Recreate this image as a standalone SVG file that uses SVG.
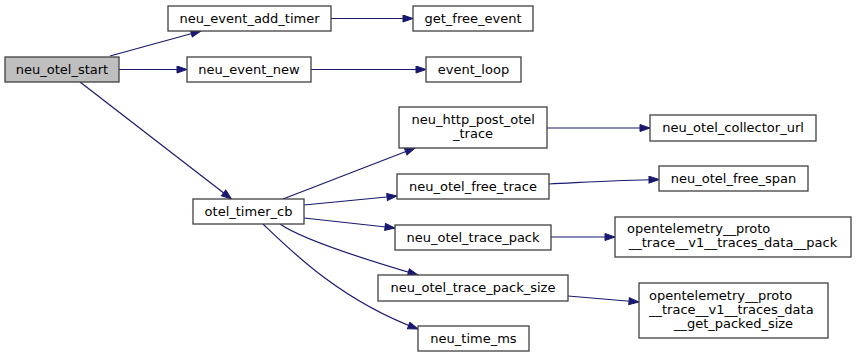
<svg xmlns="http://www.w3.org/2000/svg" width="856" height="357" viewBox="0 0 856 357">
  <style>
    .box { fill: #ffffff; stroke: #404040; stroke-width: 1.3; }
    .root { fill: #bfbfbf; }
    .lbl { font-family: "DejaVu Sans", sans-serif; font-size: 13px; fill: #000000; }
    .mid { text-anchor: middle; }
    .edge { fill: none; stroke: #191970; stroke-width: 1.2; marker-end: url(#arrow); }
  </style>
  <defs>
    <marker id="arrow" markerUnits="userSpaceOnUse" markerWidth="12" markerHeight="9" refX="11" refY="4" orient="auto">
      <path d="M1,0.5 L11,4 L1,7.5 Z" fill="#191970" stroke="#191970" stroke-width="1"/>
    </marker>
  </defs>
  <rect width="856" height="357" fill="#ffffff"/>

  <g id="edges">
    <path class="edge" d="M110,56 L201,31"/>
    <path class="edge" d="M119,69.5 L187,69.5"/>
    <path class="edge" d="M331,18.5 L413,18.5"/>
    <path class="edge" d="M311,69.5 L426,69.5"/>
    <path class="edge" d="M80,82 L231.5,199"/>
    <path class="edge" d="M283,199 L415,148"/>
    <path class="edge" d="M304,205 L397,196"/>
    <path class="edge" d="M304,218 L395,228"/>
    <path class="edge" d="M280,224 C300,238 360,258 418,275"/>
    <path class="edge" d="M263,224 C290,250 340,300 418,329"/>
    <path class="edge" d="M547,128 L650,128"/>
    <path class="edge" d="M549,184 C590,182 620,180 659,179.5"/>
    <path class="edge" d="M551,237 L615,237"/>
    <path class="edge" d="M568,296 C590,298 615,300 639,302"/>
  </g>

  <g id="neu_otel_start">
    <rect class="box root" x="5" y="57" width="114" height="25"/>
    <text class="lbl mid" x="62" y="74">neu_otel_start</text>
  </g>
  <g id="neu_event_add_timer">
    <rect class="box" x="168" y="6" width="163" height="25"/>
    <text class="lbl mid" x="249.5" y="23">neu_event_add_timer</text>
  </g>
  <g id="get_free_event">
    <rect class="box" x="413" y="6" width="120" height="25"/>
    <text class="lbl mid" x="473" y="23">get_free_event</text>
  </g>
  <g id="neu_event_new">
    <rect class="box" x="187" y="57" width="124" height="25"/>
    <text class="lbl mid" x="249" y="74">neu_event_new</text>
  </g>
  <g id="event_loop">
    <rect class="box" x="426" y="57" width="95" height="25"/>
    <text class="lbl mid" x="473.5" y="74">event_loop</text>
  </g>
  <g id="otel_timer_cb">
    <rect class="box" x="193" y="199" width="111" height="25"/>
    <text class="lbl mid" x="248.5" y="216">otel_timer_cb</text>
  </g>
  <g id="neu_http_post_otel_trace">
    <rect class="box" x="399" y="107" width="148" height="41"/>
    <text class="lbl" x="411.5" y="124">neu_http_post_otel</text>
    <text class="lbl mid" x="473" y="138">_trace</text>
  </g>
  <g id="neu_otel_free_trace">
    <rect class="box" x="397" y="174" width="152" height="25"/>
    <text class="lbl mid" x="473" y="191">neu_otel_free_trace</text>
  </g>
  <g id="neu_otel_trace_pack">
    <rect class="box" x="395" y="225" width="156" height="25"/>
    <text class="lbl mid" x="473" y="242">neu_otel_trace_pack</text>
  </g>
  <g id="neu_otel_trace_pack_size">
    <rect class="box" x="378" y="275" width="190" height="26"/>
    <text class="lbl mid" x="473" y="292">neu_otel_trace_pack_size</text>
  </g>
  <g id="neu_time_ms">
    <rect class="box" x="418" y="326" width="111" height="25"/>
    <text class="lbl mid" x="473.5" y="343">neu_time_ms</text>
  </g>
  <g id="neu_otel_collector_url">
    <rect class="box" x="650" y="115" width="166" height="26"/>
    <text class="lbl mid" x="733" y="132">neu_otel_collector_url</text>
  </g>
  <g id="neu_otel_free_span">
    <rect class="box" x="659" y="166" width="149" height="25"/>
    <text class="lbl mid" x="733.5" y="183">neu_otel_free_span</text>
  </g>
  <g id="traces_data_pack">
    <rect class="box" x="615" y="217" width="236" height="40"/>
    <text class="lbl" x="627" y="233">opentelemetry__proto</text>
    <text class="lbl mid" x="733" y="247">__trace__v1__traces_data__pack</text>
  </g>
  <g id="traces_data_get_packed_size">
    <rect class="box" x="639" y="283" width="189" height="55"/>
    <text class="lbl" x="649" y="300">opentelemetry__proto</text>
    <text class="lbl" x="649" y="314">__trace__v1__traces_data</text>
    <text class="lbl mid" x="733.5" y="328">__get_packed_size</text>
  </g>
</svg>
